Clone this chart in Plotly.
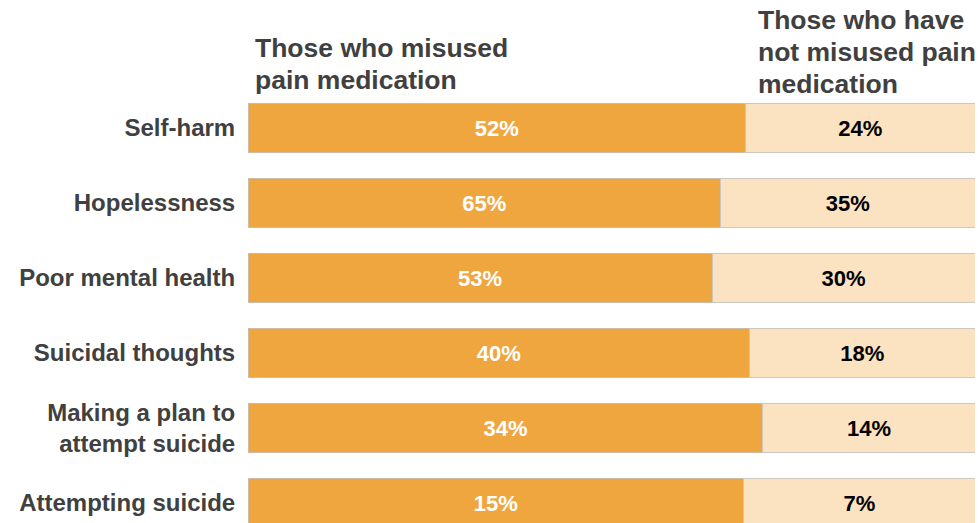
import plotly.graph_objects as go

# Survey outcomes, percent of each group
categories = ["Self-harm", "Hopelessness", "Poor mental health", "Suicidal thoughts",
              "Making a plan to<br>attempt suicide", "Attempting suicide"]
misused = [52, 65, 53, 40, 34, 15]
not_misused = [24, 35, 30, 18, 14, 7]

header_misused = ["Those who misused", "pain medication"]
header_not = ["Those who have", "not misused pain", "medication"]

W, H = 979, 523
left_px, right_px = 248, 975
pos = list(range(len(categories)))

fig = go.Figure()
fig.add_trace(go.Bar(
    y=pos, x=misused, orientation="h", name="misused",
    marker=dict(color="#F0A63F", line=dict(color="#CDBBA3", width=1)),
    text=[f"{v}%" for v in misused], textposition="inside", insidetextanchor="middle",
    textfont=dict(family="Liberation Sans", size=22, color="white", weight="bold"),
    width=0.655,
))
fig.add_trace(go.Bar(
    y=pos, x=not_misused, orientation="h", name="not misused",
    marker=dict(color="#FBE2C1", line=dict(color="#CCC7C0", width=1)),
    text=[f"{v}%" for v in not_misused], textposition="inside", insidetextanchor="middle",
    textfont=dict(family="Liberation Sans", size=22, color="black", weight="bold"),
    width=0.655,
))

# pixel 128 is the centre of the first bar, 75 px between bars
top_val = -128 / 75
bot_val = (H - 128) / 75

fig.update_layout(
    width=W, height=H,
    barmode="stack", barnorm="fraction",
    showlegend=False,
    plot_bgcolor="white", paper_bgcolor="white",
    margin=dict(l=left_px, r=W - right_px, t=0, b=0, pad=0),
    xaxis=dict(range=[0, 1], visible=False, fixedrange=True),
    yaxis=dict(range=[bot_val, top_val], tickvals=pos, ticktext=categories,
               showgrid=False, zeroline=False, showline=False,
               ticks="outside", ticklen=7, tickcolor="rgba(0,0,0,0)",
               tickfont=dict(family="Liberation Sans", size=24, color="#404040", weight="bold")),
)

def px_x(px):
    return (px - left_px) / (right_px - left_px)

def px_y(px):
    return 1 - px / H

header_font = dict(family="Liberation Sans", size=26.5, color="#404040", weight="bold")
for i, line in enumerate(header_misused):
    fig.add_annotation(text=line, xref="paper", yref="paper",
                       x=px_x(253), y=px_y(48 + 32 * i), xanchor="left", yanchor="middle",
                       align="left", showarrow=False, font=header_font)
for i, line in enumerate(header_not):
    fig.add_annotation(text=line, xref="paper", yref="paper",
                       x=px_x(756), y=px_y(20 + 32 * i), xanchor="left", yanchor="middle",
                       align="left", showarrow=False, font=header_font)

fig.write_html("out.html")
